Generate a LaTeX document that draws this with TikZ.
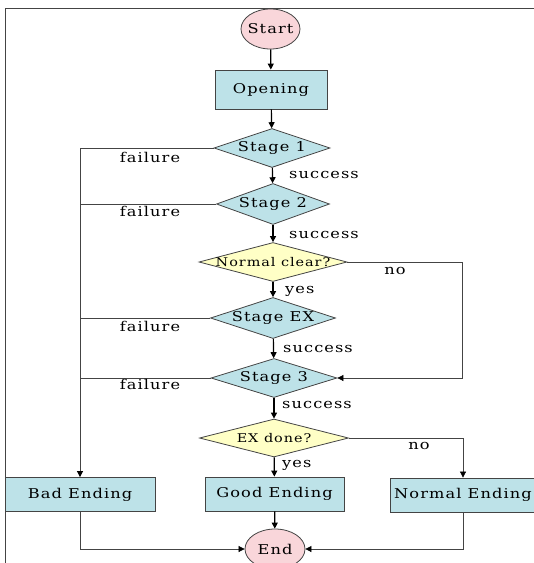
\documentclass[tikz,border=0pt]{standalone}
\usepackage{fontspec}
\setmainfont{DejaVu Serif}[LetterSpace=8,FakeStretch=1.2]
\usetikzlibrary{shapes.geometric,arrows.meta}
\definecolor{boxfill}{HTML}{BDE2E8}
\definecolor{pinkfill}{HTML}{F9D6DA}
\definecolor{yelfill}{HTML}{FFFFC6}
\definecolor{edge}{HTML}{444444}
\tikzset{
  every node/.style={font=\fontsize{13.5}{15}\selectfont},
  boxnode/.style={draw=edge, line width=0.8pt, fill=boxfill, rectangle, inner sep=0pt},
  termnode/.style={draw=edge, line width=0.8pt, fill=pinkfill, ellipse, inner sep=0pt},
  stagenode/.style={draw=edge, line width=0.8pt, fill=boxfill, diamond, inner sep=0pt},
  asknode/.style={draw=edge, line width=0.8pt, fill=yelfill, diamond, inner sep=0pt},
  flow/.style={line width=1.2pt, black, -{Triangle[length=6pt,width=6pt]}},
  side/.style={line width=0.7pt, edge},
  sidearrow/.style={line width=0.7pt, edge, -{Triangle[length=6pt,width=6pt,black]}},
  lbl/.style={inner sep=0pt}
}
\begin{document}
\begin{tikzpicture}[x=1pt,y=-1pt]
\useasboundingbox (0,0) rectangle (534,563);
\draw[line width=0.8pt, edge] (5,563) -- (5,8) -- (534,8);

\node[termnode, minimum width=59pt, minimum height=40pt] (start) at (270.5,29) {\makebox[0pt]{Start}};
\node[boxnode, minimum width=112pt, minimum height=39pt] (open) at (271,89.5) {Opening};
\node[stagenode, minimum width=116pt, minimum height=39pt] (s1) at (272,148) {\makebox[0pt]{Stage 1}};
\node[stagenode, minimum width=113pt, minimum height=41pt] (s2) at (273,204) {\makebox[0pt]{Stage 2}};
\node[asknode, minimum width=148pt, minimum height=39pt] (nc) at (273,262) {\makebox[0pt]{\fontsize{12}{13}\selectfont Normal clear?}};
\node[stagenode, minimum width=125pt, minimum height=41pt] (sx) at (273,318) {\makebox[0pt]{Stage EX}};
\node[stagenode, minimum width=126pt, minimum height=39pt] (s3) at (274,378) {\makebox[0pt]{Stage 3}};
\node[asknode, minimum width=149pt, minimum height=38pt] (ex) at (274,438) {\makebox[0pt]{\fontsize{12}{13}\selectfont EX done?}};
\node[boxnode, minimum width=150pt, minimum height=34pt] (bad) at (80,494.5) {Bad Ending};
\node[boxnode, minimum width=139pt, minimum height=34pt] (good) at (274.5,494) {Good Ending};
\node[boxnode, minimum width=146pt, minimum height=34pt] (norm) at (463,495) {Normal Ending};
\node[termnode, minimum width=60pt, minimum height=40pt] (end) at (275,549) {\makebox[0pt]{End}};

% main flow
\draw[flow] (start) -- (open);
\draw[flow] (open) -- (s1);
\draw[flow] (s1) -- (s2);
\draw[flow] (s2) -- (nc);
\draw[flow] (nc) -- (sx);
\draw[flow] (sx) -- (s3);
\draw[flow] (s3) -- (ex);
\draw[flow] (ex) -- (good);
\draw[flow] (good) -- (end);

% failure branches
\draw[sidearrow] (s1.west) -| (bad.north);
\draw[side] (s2.west) -- (bad.north |- s2.west);
\draw[side] (sx.west) -- (bad.north |- sx.west);
\draw[side] (s3.west) -- (bad.north |- s3.west);

% no branches
\coordinate (nx) at (462,262);
\draw[sidearrow] (nc.east) -- (nx) |- (s3.east);
\draw[sidearrow] (ex.east) -| (norm.north);

% to end
\draw[sidearrow] (bad.south) |- (end.west);
\draw[sidearrow] (norm.south) |- (end.east);

% labels
\node[lbl] (f1) at (150,157) {failure};
\node[lbl] (f2) at (150,211) {failure};
\node[lbl] (f3) at (150,326) {failure};
\node[lbl] (f4) at (150,384) {failure};
\node[lbl, anchor=west] (u1) at (289,175) {success};
\node[lbl, anchor=west] (u2) at (289,235) {success};
\node[lbl, anchor=west] (u3) at (283,349) {success};
\node[lbl, anchor=west] (u4) at (282,405) {success};
\node[lbl, anchor=west] (y1) at (285,291) {yes};
\node[lbl, anchor=west] (y2) at (282,465) {yes};
\node[lbl] (n1) at (395,271) {no};
\node[lbl] (n2) at (419,446) {no};
\end{tikzpicture}
\end{document}
